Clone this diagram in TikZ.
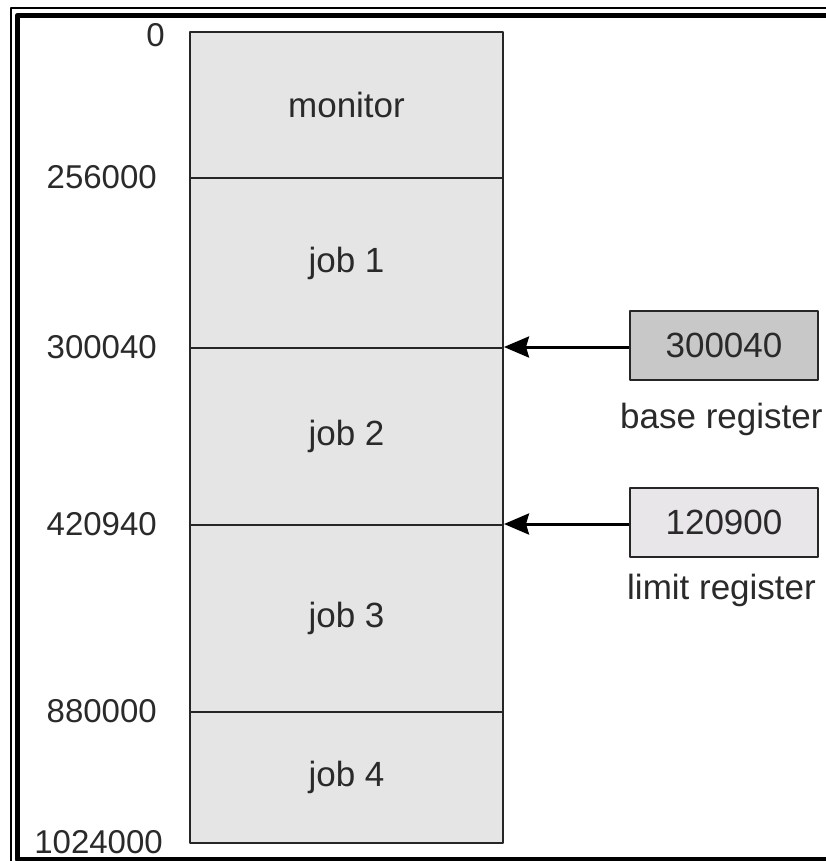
\documentclass[tikz,border=0pt]{standalone}
\usepackage{fontspec}
\setmainfont{Liberation Sans}
\usetikzlibrary{arrows.meta,positioning}
\definecolor{memfill}{HTML}{E6E5E6}
\definecolor{basefill}{HTML}{C8C8C8}
\definecolor{limitfill}{HTML}{E8E6E8}
\definecolor{txt}{HTML}{2A2A2A}
\begin{document}
\begin{tikzpicture}[x=1pt,y=-1pt,line join=round,font=\fontsize{35}{40}\selectfont,
	part/.style={draw=black!85,line width=2pt,fill=memfill,minimum width=313pt,inner sep=0pt,text=txt},
	addr/.style={anchor=east,inner sep=0pt,text=txt,font=\fontsize{33}{40}\selectfont},
	reg/.style={draw=black!85,line width=2.5pt,minimum width=188pt,minimum height=69pt,inner sep=0pt,text=txt},
	ptr/.style={-{Stealth[length=25pt,width=21pt,inset=3pt]},line width=3pt}]
	\useasboundingbox (0,0) rectangle (826,861);
	\clip (0,0) rectangle (826,861);
	% frame (open to the right and below)
	\draw[line width=2.5pt] (840,8) -| (11,880);
	\draw[line width=5.5pt] (840,15.5) -| (17.5,859.5) -- (840,859.5);
	
	% memory column
	\node[part,minimum height=146pt] (monitor) at (346.5,105) {monitor};
	\node[part,minimum height=170pt] (job1) at (346.5,263) {job 1};
	\node[part,minimum height=177pt] (job2) at (346.5,436.5) {job 2};
	\node[part,minimum height=187pt] (job3) at (346.5,618.5) {job 3};
	\node[part,minimum height=131pt] (job4) at (346.5,777.5) {job 4};
	
	\node[addr] (a0) at ([xshift=-24pt,yshift=-4pt]monitor.north west) {0};
	\node[addr] (a1) at ([xshift=-32pt]job1.north west) {256000};
	\node[addr] (a2) at ([xshift=-32pt]job2.north west) {300040};
	\node[addr] (a3) at ([xshift=-32pt]job3.north west) {420940};
	\node[addr] (a4) at ([xshift=-32pt]job4.north west) {880000};
	\node[addr] (a5) at ([xshift=-26pt,yshift=1.5pt]job4.south west) {1024000};
	
	% registers
	\node[reg,fill=basefill] (base) at (724,345.5) {300040};
	\node[reg,fill=limitfill] (limit) at (724,522.5) {120900};
	\node[anchor=base west,inner sep=0pt,text=txt] (baselbl) at (620,428) {base register};
	\node[anchor=base west,inner sep=0pt,text=txt] (limitlbl) at (627,599) {limit register};
	
	\draw[ptr] (base.west |- job2.north east) -- (job2.north east);
	\draw[ptr] (limit.west |- job3.north east) -- (job3.north east);
\end{tikzpicture}
\end{document}
